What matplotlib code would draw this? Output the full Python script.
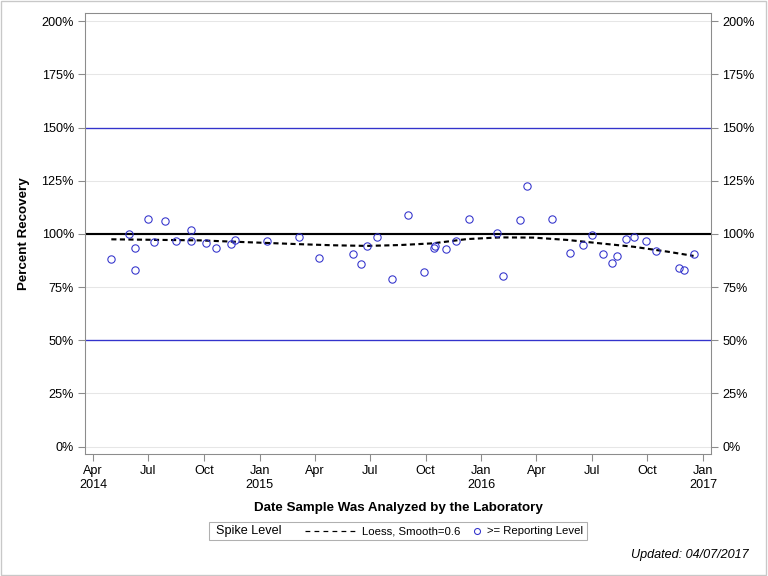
import numpy as np
import pandas as pd
import matplotlib
matplotlib.use('Agg')
import matplotlib.pyplot as plt
from matplotlib.lines import Line2D
from matplotlib.patches import Rectangle

plt.rcParams['font.family'] = ['Liberation Sans', 'DejaVu Sans']

# sample dates and percent recovery (>= reporting level)
sample_dates = ['2014-05-01', '2014-05-30', '2014-06-09', '2014-06-09', '2014-07-01',
                '2014-07-10', '2014-07-28', '2014-08-16', '2014-09-09', '2014-09-09',
                '2014-10-04', '2014-10-21', '2014-11-15', '2014-11-21', '2015-01-13',
                '2015-03-07', '2015-04-09', '2015-06-04', '2015-06-16', '2015-06-27',
                '2015-07-13', '2015-08-07', '2015-09-02', '2015-09-29', '2015-10-15',
                '2015-10-17', '2015-11-04', '2015-11-21', '2015-12-11', '2016-01-27',
                '2016-02-05', '2016-03-04', '2016-03-17', '2016-04-26', '2016-05-27',
                '2016-06-16', '2016-07-01', '2016-07-20', '2016-08-04', '2016-08-12',
                '2016-08-26', '2016-09-08', '2016-09-28', '2016-10-15', '2016-11-22',
                '2016-11-30', '2016-12-16']
recovery = [88.1, 100.1, 93.3, 83.0, 106.9, 96.0, 106.0, 96.6, 101.7, 96.6,
            95.6, 93.3, 95.2, 97.0, 96.6, 98.5, 88.6, 90.5, 85.8, 94.2,
            98.5, 78.7, 108.8, 82.0, 93.3, 94.2, 92.8, 96.6, 106.9, 100.3,
            80.1, 106.4, 122.4, 106.9, 90.9, 94.7, 99.4, 90.5, 86.2, 89.5,
            97.5, 98.5, 96.6, 91.9, 83.9, 83.0, 90.5]

# loess curve (smooth=0.6)
loess_dates = ['2014-05-01', '2014-09-24', '2014-11-17', '2015-01-12', '2015-03-08',
               '2015-05-01', '2015-06-26', '2015-08-20', '2015-10-13', '2015-12-08',
               '2016-02-01', '2016-03-27', '2016-05-22', '2016-07-15', '2016-09-08',
               '2016-11-03', '2016-12-16']
loess_vals = [97.5, 97.0, 96.4, 95.8, 95.2, 94.7, 94.4, 94.8, 95.6, 97.6,
              98.4, 98.3, 97.2, 95.6, 94.0, 91.7, 89.7]

tick_dates = ['2014-04-01', '2014-07-01', '2014-10-01', '2015-01-01', '2015-04-01',
              '2015-07-01', '2015-10-01', '2016-01-01', '2016-04-01', '2016-07-01',
              '2016-10-01', '2017-01-01']
tick_labels = ['Apr\n2014', 'Jul', 'Oct', 'Jan\n2015', 'Apr', 'Jul', 'Oct',
               'Jan\n2016', 'Apr', 'Jul', 'Oct', 'Jan\n2017']
y_ticks = [0, 25, 50, 75, 100, 125, 150, 175, 200]

blue = '#3333cc'
grey = '#8c8c8c'

fig = plt.figure(figsize=(8, 6), dpi=96)
ax = fig.add_axes([0.111, 0.212, 0.815, 0.765])

for yv in y_ticks:
    ax.axhline(yv, color='#e6e6e6', lw=0.8, zorder=0)
ax.axhline(150, color=blue, lw=1, zorder=1)
ax.axhline(50, color=blue, lw=1, zorder=1)
ax.axhline(100, color='black', lw=1.6, zorder=2)

ax.plot(pd.to_datetime(loess_dates), loess_vals, color='black', lw=1.6,
        dashes=(2.4, 1.6), zorder=3)
ax.plot(pd.to_datetime(sample_dates), recovery, 'o', mfc='none', mec=blue,
        ms=5.5, mew=0.8, zorder=4)

ax.set_xlim(pd.Timestamp('2014-03-19'), pd.Timestamp('2017-01-14'))
ax.set_ylim(-3.4, 203.8)
ax.set_xticks(pd.to_datetime(tick_dates))
ax.set_xticklabels(tick_labels)
ax.set_yticks(y_ticks)
ax.set_yticklabels([f'{v}%' for v in y_ticks])

ax.tick_params(axis='both', colors=grey, labelcolor='black', labelsize=9.5,
               direction='out', length=5, width=0.8)
ax.tick_params(axis='y', right=True, labelright=True)
for s in ax.spines.values():
    s.set_color(grey)
    s.set_linewidth(0.8)

ax.set_ylabel('Percent Recovery', fontsize=10, fontweight='bold', labelpad=9)
ax.set_xlabel('Date Sample Was Analyzed by the Laboratory', fontsize=10,
              fontweight='bold', labelpad=8)

# legend, laid out by hand in figure pixels
def fx(px):
    return px / 768

def fy(py):
    return 1 - py / 576

ly = fy(531)
fig.patches.append(Rectangle((fx(209), fy(540)), 378 / 768, 18 / 576,
                             transform=fig.transFigure, fill=False,
                             edgecolor='#b0b0b0', lw=0.8))
fig.text(fx(216), ly, 'Spike Level', fontsize=9.5, va='center')
fig.lines.append(Line2D([fx(305), fx(356)], [ly, ly], transform=fig.transFigure,
                        color='black', lw=0.9, dashes=(4, 3.5)))
fig.text(fx(362), ly, 'Loess, Smooth=0.6', fontsize=8.5, va='center')
fig.lines.append(Line2D([fx(477)], [ly], transform=fig.transFigure, marker='o',
                        ls='none', mfc='none', mec=blue, ms=4.5, mew=0.8))
fig.text(fx(487), ly, '>= Reporting Level', fontsize=8.5, va='center')

fig.text(fx(749), fy(555), 'Updated: 04/07/2017', fontsize=9.5,
         style='italic', ha='right', va='center')

fig.patches.append(Rectangle((0.001, 0.001), 0.997, 0.997, transform=fig.transFigure,
                             fill=False, edgecolor='#c8c8c8', lw=1))

fig.savefig('out.png', dpi=96)
